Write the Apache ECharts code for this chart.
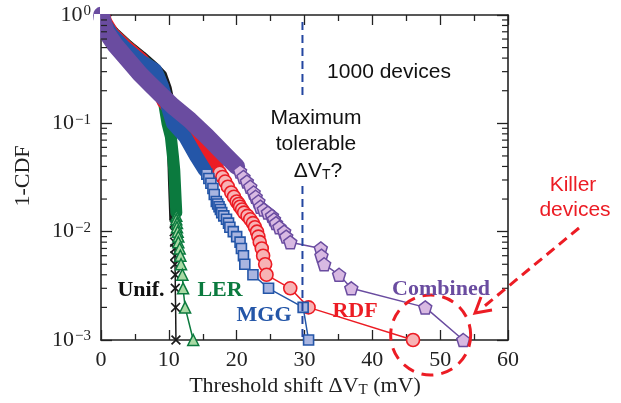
<!DOCTYPE html>
<html><head><meta charset="utf-8">
<script src="https://cdn.jsdelivr.net/npm/echarts@6/dist/echarts.min.js"></script>
<style>html,body{margin:0;padding:0;background:#fff}#c{width:621px;height:403px}</style>
</head><body><div id="c"></div>
<script>
// ---- data (x = threshold shift in mV, y = 1-CDF) ----
const xTickValues = [0, 10, 20, 30, 40, 50, 60];
const yTickLabels = { '0': '0', '-1': '−1', '-2': '−2', '-3': '−3' };
const minorTickValues = [0.002,0.003,0.004,0.005,0.006,0.007,0.008,0.009,
                         0.02,0.03,0.04,0.05,0.06,0.07,0.08,0.09,
                         0.2,0.3,0.4,0.5,0.6,0.7,0.8,0.9];

const unifBand = [[0.2,1.0],[0.7,0.85],[2.0,0.69],[4.0,0.53],[6.0,0.42],[7.8,0.335],[9.0,0.28],[9.7,0.21],[10.0,0.17],[10.2,0.13],[10.3,0.10],[10.5,0.05],[10.6,0.03],[10.7,0.02],[10.8,0.013]];
const unifTail = [[10.8,0.012],[10.8,0.010],[10.85,0.008],[10.9,0.007],[10.9,0.006],[10.9,0.005],[10.95,0.004],[10.95,0.003],[11.0,0.002],[11.05,0.001]];

const lerBand = [[0.2,1.0],[0.6,0.85],[1.8,0.68],[3.7,0.53],[5.6,0.415],[7.3,0.335],[8.5,0.28],[9.1,0.21],[9.3,0.154],[9.8,0.10],[10.3,0.075],[10.6,0.05],[10.8,0.037],[11.0,0.02],[11.1,0.015]];
const lerTail = [[11.1,0.014],[11.1,0.013],[11.2,0.012],[11.2,0.011],[11.3,0.010],[11.4,0.009],[11.4,0.008],[11.6,0.007],[11.7,0.006],[11.8,0.005],[12.0,0.004],[12.1,0.003],[12.4,0.002],[13.6,0.001]];

const rdfBand = [[0.2,1.0],[0.6,0.85],[1.6,0.67],[3.6,0.51],[6.0,0.38],[7.8,0.26],[9.3,0.16],[11.5,0.11],[13.6,0.081],[15.5,0.058],[17.0,0.04]];
const rdfTail = [[17.5,0.035],[17.9,0.032],[18.3,0.029],[18.7,0.026],[19.2,0.023],[19.6,0.021],[20.0,0.019],[20.3,0.018],[20.5,0.017],[20.8,0.016],[21.1,0.015],[21.6,0.014],[22.0,0.013],[22.4,0.012],[22.7,0.011],[23.0,0.010],[23.2,0.009],[23.4,0.008],[23.7,0.007],[23.9,0.006],[24.2,0.005],[24.4,0.004],[27.9,0.003],[30.6,0.002],[46.0,0.001]];

const mggBand = [[0.2,1.0],[0.5,0.85],[1.5,0.67],[3.5,0.50],[6.0,0.37],[8.0,0.31],[9.0,0.22],[9.7,0.154],[10.6,0.10],[12.4,0.075],[14.0,0.05],[15.3,0.037]];
const mggTail = [[15.6,0.034],[15.9,0.031],[16.2,0.028],[16.5,0.025],[16.7,0.022],[17.0,0.019],[17.2,0.018],[17.4,0.017],[17.6,0.016],[17.8,0.015],[18.1,0.014],[18.5,0.013],[18.8,0.012],[19.0,0.011],[19.5,0.010],[20.0,0.009],[20.5,0.008],[20.7,0.007],[21.0,0.006],[21.2,0.005],[22.4,0.004],[24.7,0.003],[29.8,0.002],[30.6,0.001]];

const combinedBand = [[0.1,1.0],[0.15,0.94],[0.74,0.70],[2.06,0.53],[3.98,0.384],[5.75,0.285],[7.22,0.231],[8.7,0.187],[10.6,0.144],[13.1,0.107],[15.6,0.076],[18.3,0.051],[20.0,0.04]];
const combinedTail = [[20.5,0.036],[21.0,0.032],[21.5,0.029],[22.0,0.026],[22.5,0.023],[22.8,0.021],[23.2,0.019],[23.5,0.017],[24.0,0.016],[24.6,0.015],[25.2,0.014],[25.5,0.013],[25.8,0.012],[26.3,0.011],[27.0,0.010],[27.3,0.009],[27.9,0.008],[32.4,0.007],[32.5,0.006],[32.9,0.005],[35.1,0.004],[36.9,0.003],[47.8,0.002],[53.4,0.001]];

const maxTolerableShift = 29.7;

// ---- styling ----
const SERIF = '"Liberation Serif","Times New Roman",serif';
const SANS = '"Liberation Sans",Arial,Helvetica,sans-serif';
const AX = '#222';
const C = {
  unif: {line:'#1a1a1a', fill:'#1a1a1a'},
  ler: {line:'#0b7a3e', fill:'#a9d9a4'},
  rdf: {line:'#ec1c24', fill:'#f7b3b5'},
  mgg: {line:'#2456a8', fill:'#a9b5e0'},
  comb:{line:'#6a4ca0', fill:'#d8b9e2'}
};
const PENTAGON = 'path://M5,0 L10,3.82 L8.09,10 L1.91,10 L0,3.82 Z';
const CROSS = 'path://M0,1.2 L1.2,0 L5,3.8 L8.8,0 L10,1.2 L6.2,5 L10,8.8 L8.8,10 L5,6.2 L1.2,10 L0,8.8 L3.8,5 Z';

function band(data, color, w) {
  return {type:'line', data, symbol:'none', showSymbol:false, silent:true, animation:false,
    lineStyle:{color, width:w, cap:'round', join:'round'}, clip:true};
}
function tail(data, col, symbol, size, bw) {
  return {type:'line', data, symbol, symbolSize:size, symbolKeepAspect:true, showSymbol:true,
    silent:true, animation:false, clip:true,
    itemStyle:{color:col.fill, borderColor:col.line, borderWidth:bw},
    lineStyle:{color:col.line, width:1.5}};
}

const chart = echarts.init(document.getElementById('c'), null, {renderer:'canvas'});
const tickStyle = {color:AX, width:1.3};
chart.setOption({
  animation:false,
  backgroundColor:'#fff',
  grid:{left:101, top:15, right:113, bottom:63, containLabel:false},
  xAxis:[
    {type:'value', position:'bottom', min:0, max:60, interval:10,
     axisLine:{show:true, onZero:false, lineStyle:{color:AX, width:1.6}},
     axisTick:{show:true, inside:true, length:10, lineStyle:tickStyle},
     minorTick:{show:true, splitNumber:2, length:6, lineStyle:tickStyle},
     splitLine:{show:false},
     axisLabel:{show:true, margin:9, color:AX, fontFamily:SERIF, fontSize:22,
       formatter:v => xTickValues.indexOf(v) >= 0 ? String(v) : ''}},
    {type:'value', position:'top', min:0, max:60, interval:10,
     axisLine:{show:true, onZero:false, lineStyle:{color:AX, width:1.6}},
     axisTick:{show:true, inside:true, length:10, lineStyle:tickStyle},
     minorTick:{show:true, splitNumber:2, length:6, lineStyle:tickStyle},
     splitLine:{show:false}, axisLabel:{show:false}}
  ],
  yAxis:[
    {type:'log', logBase:10, min:0.001, max:1, position:'left',
     axisLine:{show:true, onZero:false, lineStyle:{color:AX, width:1.6}},
     axisTick:{show:true, inside:true, length:11, lineStyle:tickStyle},
     splitLine:{show:false},
     axisLabel:{show:true, margin:10,
       formatter:v => { const e = Math.round(Math.log10(v)); return '{b|10}{s|' + yTickLabels[String(e)] + '}'; },
       rich:{b:{fontFamily:SERIF, fontSize:22, color:AX},
             s:{fontFamily:SERIF, fontSize:15, color:AX, verticalAlign:'top', padding:[0,0,0,1]}}}},
    {type:'log', logBase:10, min:0.001, max:1, position:'right',
     axisLine:{show:true, onZero:false, lineStyle:{color:AX, width:1.6}},
     axisTick:{show:true, inside:true, length:11, lineStyle:tickStyle},
     splitLine:{show:false}, axisLabel:{show:false}}
  ],
  series:[
    {type:'custom', coordinateSystem:'cartesian2d', xAxisIndex:0, yAxisIndex:0, silent:true, clip:false, z:10,
     data:minorTickValues.map(v => [0, v]),
     renderItem:(params, api) => {
       const v = api.value(1);
       const a = api.coord([0, v]), b = api.coord([60, v]);
       return {type:'group', children:[
         {type:'line', shape:{x1:a[0], y1:a[1], x2:a[0]+6, y2:a[1]}, style:{stroke:AX, lineWidth:1.2}},
         {type:'line', shape:{x1:b[0]-6, y1:b[1], x2:b[0], y2:b[1]}, style:{stroke:AX, lineWidth:1.2}}
       ]};
     }},
    band(unifBand, C.unif.line, 10),
    tail(unifTail, C.unif, CROSS, 10, 0),
    band(lerBand, C.ler.line, 12),
    tail(lerTail, C.ler, 'triangle', 11, 1.5),
    band(rdfBand, C.rdf.line, 15),
    tail(rdfTail, C.rdf, 'circle', 13, 1.6),
    band(mggBand, C.mgg.line, 14),
    tail(mggTail, C.mgg, 'rect', 10, 1.6),
    band(combinedBand, C.comb.line, 17),
    tail(combinedTail, C.comb, PENTAGON, 13, 1.5)
  ]
});

// ---- annotations ----
const xPix = chart.convertToPixel({xAxisIndex:0}, maxTolerableShift);
const killer = chart.convertToPixel({xAxisIndex:0, yAxisIndex:0}, [48.6, 0.001]);
const RED = '#ec1c24';
function label(text, x, y, font, fill) {
  return {type:'text', z:100, silent:true,
    style:{text, x, y, font, fill, align:'center', verticalAlign:'middle', textAlign:'center', textVerticalAlign:'middle'}};
}
const boldSerif = 'bold 22px ' + SERIF;
const sans = '21px ' + SANS;
chart.setOption({
  graphic:[
    // white masks that trim the thick band strokes spilling past the frame
    {type:'rect', z:40, silent:true, shape:{x:94, y:14, width:6.1, height:62}, style:{fill:'#fff'}},
    {type:'rect', z:40, silent:true, shape:{x:100, y:0, width:90, height:14.1}, style:{fill:'#fff'}},
    {type:'line', z:50, silent:true, shape:{x1:xPix, y1:22, x2:xPix, y2:100},
     style:{stroke:'#2346a0', lineWidth:2, lineDash:[8,5]}},
    {type:'line', z:50, silent:true, shape:{x1:xPix, y1:186, x2:xPix, y2:339},
     style:{stroke:'#2346a0', lineWidth:2, lineDash:[8,5]}},
    label('1000 devices', 389, 72, sans, '#111'),
    label('Maximum', 316, 118, sans, '#111'),
    label('tolerable', 316, 144, sans, '#111'),
    {type:'text', z:100, silent:true,
     style:{text:'{a|ΔV}{t|T}{a|?}', x:318, y:171, align:'center', verticalAlign:'middle', textAlign:'center', textVerticalAlign:'middle',
       rich:{a:{font:sans, fill:'#111', color:'#111'}, t:{font:'14px '+SANS, fill:'#111', color:'#111', verticalAlign:'bottom', padding:[8,0,0,0]}}}},
    label('Killer', 573, 185, sans, RED),
    label('devices', 575, 210, sans, RED),
    label('Unif.', 141, 290, boldSerif, '#111'),
    label('LER', 220, 290, boldSerif, C.ler.line),
    label('MGG', 264, 315, boldSerif, C.mgg.line),
    label('RDF', 355, 311, boldSerif, C.rdf.line),
    label('Combined', 441, 289, boldSerif, C.comb.line),
    {type:'text', z:100, silent:true,
     style:{text:'{a|Threshold shift ΔV}{t|T}{a| (mV)}', x:305, y:386, align:'center', verticalAlign:'middle', textAlign:'center', textVerticalAlign:'middle',
       rich:{a:{font:'22px '+SERIF, fill:AX, color:AX}, t:{font:'15px '+SERIF, fill:AX, color:AX, verticalAlign:'bottom', padding:[9,0,0,0]}}}},
    {type:'text', z:100, silent:true, rotation:Math.PI/2, x:23, y:176,
     style:{text:'1-CDF', x:0, y:0, font:'22px '+SERIF, fill:AX, align:'center', verticalAlign:'middle', textAlign:'center', textVerticalAlign:'middle'}},
    {type:'circle', z:60, silent:true, shape:{cx:killer[0], cy:killer[1]-5, r:40},
     style:{fill:'none', stroke:RED, lineWidth:3, lineDash:[12,8]}},
    {type:'line', z:60, silent:true, shape:{x1:579, y1:228, x2:481, y2:309},
     style:{stroke:RED, lineWidth:3, lineDash:[10,6]}},
    {type:'polyline', z:60, silent:true, shape:{points:[[481,297],[475,313],[492,310]]},
     style:{fill:'none', stroke:RED, lineWidth:3}}
  ]
});
</script>
</body></html>
